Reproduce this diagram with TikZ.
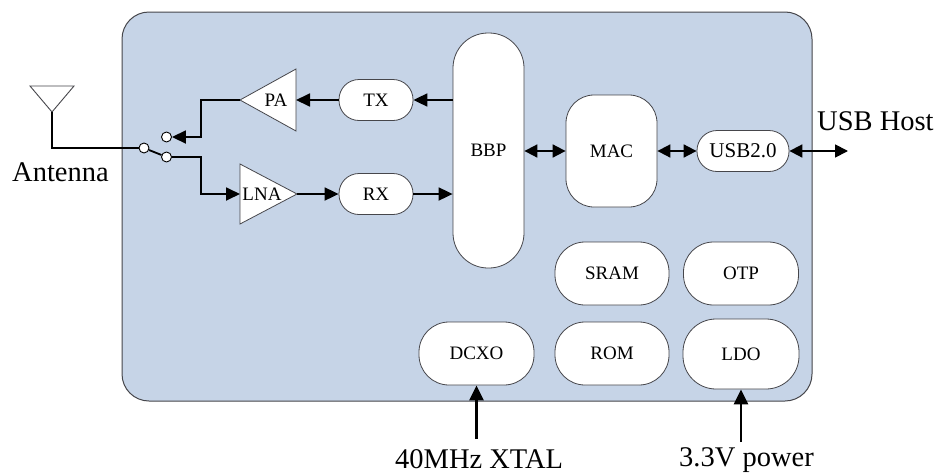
\documentclass[tikz,border=0pt]{standalone}
\usepackage{fontspec}
\setmainfont{LiberationSerif}[Extension=.ttf, UprightFont=*-Regular, BoldFont=*-Bold, ItalicFont=*-Italic, BoldItalicFont=*-BoldItalic]
\usetikzlibrary{arrows.meta}
\definecolor{chip}{RGB}{198,212,231}
\definecolor{edge}{RGB}{70,70,75}
\begin{document}
\begin{tikzpicture}[x=1pt,y=-1pt,
  blk/.style={draw=edge, line width=0.8pt, fill=white, rounded corners=#1, inner sep=0pt, font=\fontsize{19}{22}\selectfont},
  wire/.style={line width=1.8pt, draw=black},
  tip/.style={-{Triangle[length=14pt,width=13pt]}},
  dtip/.style={{Triangle[length=13pt,width=13pt]}-{Triangle[length=13pt,width=13pt]}},
  bigtip/.style={line width=2.7pt, -{Triangle[length=15pt,width=14pt]}},
  ext/.style={font=\fontsize{28.5}{32}\selectfont, inner sep=0pt},
  lbl/.style={font=\fontsize{19}{22}\selectfont, inner sep=0pt},
  sw/.style={circle, draw=black, fill=white, line width=0.9pt, minimum size=10pt, inner sep=0pt},
  amp/.style={draw=edge, line width=0.8pt, fill=white},
]
\useasboundingbox (0,0) rectangle (939,474);
\fill[white] (0,0) rectangle (939,474);
% chip outline
\draw[draw=edge, fill=chip, line width=1pt, rounded corners=27pt] (122,12) rectangle (812,401);

% blocks
\node[blk=20pt, minimum width=74pt, minimum height=41pt] (tx) at (376,100) {TX};
\node[blk=20pt, minimum width=74pt, minimum height=41pt] (rx) at (376,194) {RX};
\node[blk=35pt, minimum width=71pt, minimum height=235pt] (bbp) at (488.5,150.5) {BBP};
\node[blk=28pt, minimum width=91pt, minimum height=112pt] (mac) at (611.5,151) {MAC};
\node[blk=20pt, minimum width=92pt, minimum height=41pt, font=\fontsize{21}{24}\selectfont] (usb) at (743,151) {USB2.0};
\node[blk=30pt, minimum width=114pt, minimum height=63pt] (sram) at (612,273.5) {SRAM};
\node[blk=30pt, minimum width=115pt, minimum height=63pt] (otp) at (741,273.5) {OTP};
\node[blk=30pt, minimum width=115pt, minimum height=63pt] (dcxo) at (476.5,353.5) {DCXO};
\node[blk=30pt, minimum width=114pt, minimum height=63pt] (rom) at (612,353.5) {ROM};
\node[blk=33pt, minimum width=116pt, minimum height=70pt] (ldo) at (741,354) {LDO};

% amplifiers
\draw[amp] (296,69) -- (296,131) -- (240,100) -- cycle;
\coordinate (pain) at (296,100);
\coordinate (paout) at (240,100);
\node[lbl] (patext) at (276,100) {PA};
\draw[amp] (240,164) -- (240,224) -- (297,194) -- cycle;
\coordinate (lnain) at (240,194);
\coordinate (lnaout) at (297,194);
\node[lbl] (lnatext) at (262,194) {LNA};

% antenna
\draw[line width=0.9pt, draw=edge] (30,86) -- (74,86) -- (52,112) -- cycle;
\coordinate (ant) at (52,112);

% switch
\node[sw] (piv) at (144,148) {};
\node[sw] (up) at (166.5,137) {};
\node[sw] (dn) at (166.5,157) {};

% wires
\draw[line width=2.6pt] (ant) |- (piv.west);
\draw[wire] (piv) -- (dn);
\coordinate (jx) at (201,0);
\draw[wire, tip] (paout) -- (paout -| jx) |- (up.east);
\draw[wire, tip] (dn.east) -- (dn.east -| jx) |- (lnain);
\draw[wire, tip] (lnaout) -- (rx.west);
\draw[wire, tip] (rx.east) -- (rx.east -| bbp.west);
\draw[wire, tip] (tx.east -| bbp.west) -- (tx.east);
\draw[wire, tip] (tx.west) -- (pain);
\draw[wire, dtip] (bbp.east |- mac.west) -- (mac.west);
\draw[wire, dtip] (mac.east |- usb.west) -- (usb.west);
\coordinate (host) at (848,151);
\draw[wire, dtip] (usb.east) -- (host);

% external labels
\node[ext, anchor=base west] (hostlbl) at (817,130) {USB Host};
\node[ext, anchor=base west] (antlbl) at (12,181) {Antenna};
\node[ext, anchor=base west] (xtal) at (395,468) {40MHz XTAL};
\node[ext, anchor=base west] (pwr) at (679,466) {3.3V power};
\coordinate (xtalsrc) at (476.5,439);
\coordinate (pwrsrc) at (741,442);
\draw[bigtip] (xtalsrc) -- (dcxo.south);
\draw[bigtip] (pwrsrc) -- (ldo.south);
\end{tikzpicture}
\end{document}
